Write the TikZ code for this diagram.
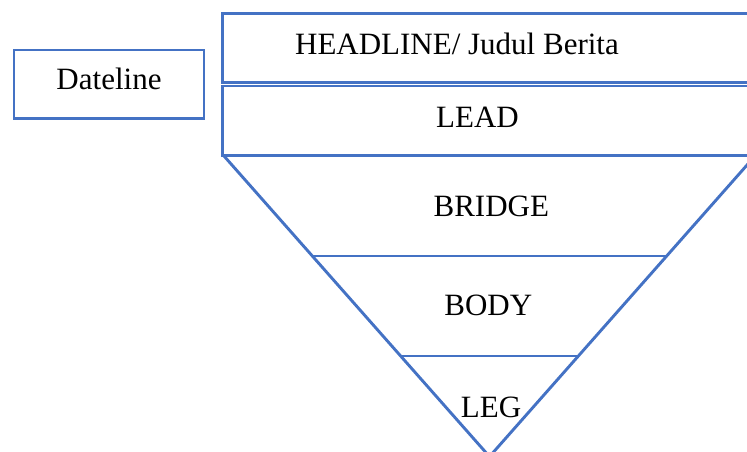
\documentclass[tikz,border=0pt]{standalone}
\usepackage{fontspec}
\setmainfont{Liberation Serif}
\definecolor{boxblue}{RGB}{68,114,196}
\begin{document}
\begin{tikzpicture}[x=1pt,y=-1pt,
  shapeline/.style={draw=boxblue,line width=2.9pt,line join=miter},
  lbl/.style={inner sep=0pt,anchor=base,font=\fontsize{31}{37}\selectfont}]
\useasboundingbox (0,0) rectangle (747,452);
\clip (0,0) rectangle (747,452);
% coordinates
\coordinate (hTL) at (222.5,13.5);
\coordinate (hBR) at (757,82.3);
\coordinate (lTL) at (222.5,86);
\coordinate (lBR) at (757,155.7);
\coordinate (tL) at (224,156);
\coordinate (tR) at (755,156);
\coordinate (apex) at (489.5,456.6);
\coordinate (b1L) at (313,256);
\coordinate (b1R) at (666,256);
\coordinate (b2L) at (401,356);
\coordinate (b2R) at (578,356);
% shapes
\draw[shapeline] (14,50) rectangle (204,118.7);
\draw[shapeline] (hTL) rectangle (hBR);
\draw[shapeline] (lTL) rectangle (lBR);
\draw[shapeline] (tL) -- (apex) -- (tR);
\draw[shapeline] (b1L) -- (b1R);
\draw[shapeline] (b2L) -- (b2R);
% labels
\node[lbl] (dateline) at (109,89.3) {Dateline};
\node[lbl] (headline) at (457,54.3) {HEADLINE/ Judul Berita};
\node[lbl] (lead) at (477.5,127.3) {LEAD};
\node[lbl] (bridge) at (491.3,216) {BRIDGE};
\node[lbl] (body) at (488.3,315) {BODY};
\node[lbl] (leg) at (491,417.3) {LEG};
\end{tikzpicture}
\end{document}
